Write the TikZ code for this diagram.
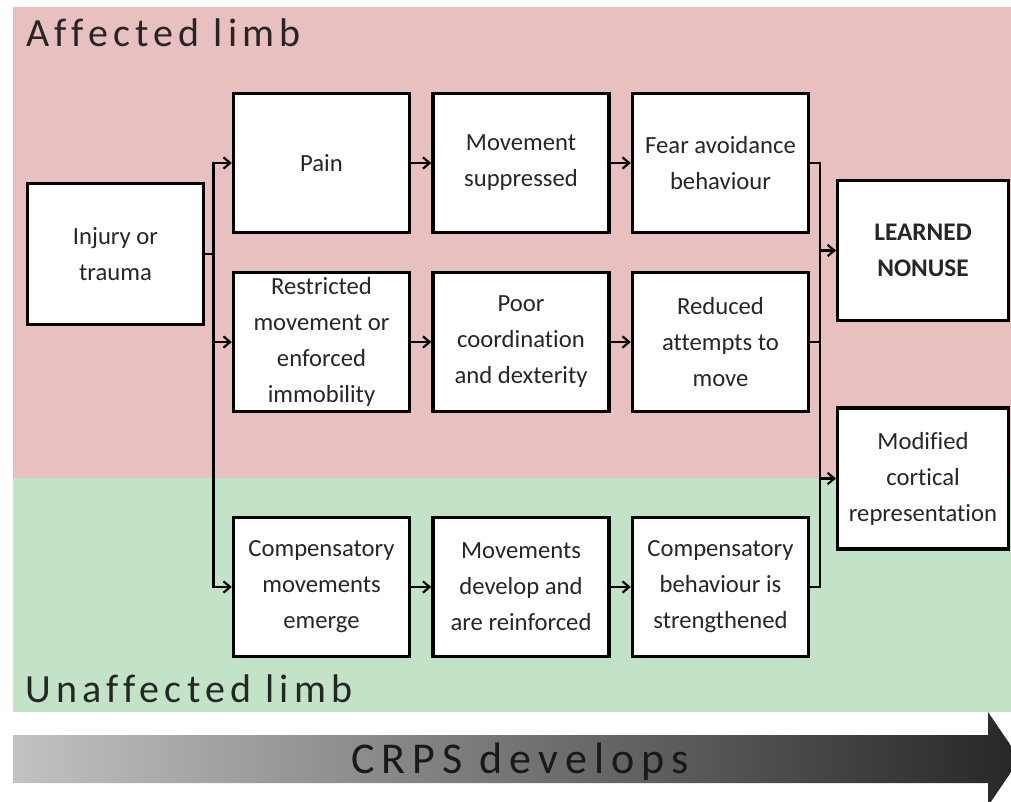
\documentclass[tikz,border=0pt]{standalone}
\usepackage{fontspec}
\setmainfont[Ligatures=NoCommon]{Carlito}
\newfontfamily\spacedfont[LetterSpace=13,Ligatures=NoCommon]{Carlito}
\newfontfamily\widefont[LetterSpace=16,Ligatures=NoCommon]{Carlito}
\usetikzlibrary{arrows.meta,positioning}
\definecolor{affectbg}{HTML}{E8C0C0}
\definecolor{unaffectbg}{HTML}{C2E3C8}

\begin{document}
\begin{tikzpicture}[
  x=.75pt,y=-.75pt,
  font=\fontsize{18.5}{27}\selectfont,
  box/.style={draw=black,fill=white,line width=2.6pt,align=center,
              text=black!85,inner sep=2pt,minimum width=132pt,minimum height=104pt},
  limb/.style={anchor=base west,inner sep=0pt,text=black!85,
               font=\spacedfont\fontsize{30}{32}\selectfont},
  link/.style={line width=2pt,line cap=rect},
  arr/.style={link,-{Straight Barb[length=5pt,width=8.5pt,line width=1.6pt]}},
  every path/.style={line join=miter}
]
\useasboundingbox (0,0) rectangle (1011,802);
% two limb bands
\fill[affectbg] (13,7) rectangle (1011,478);
\fill[unaffectbg] (13,478) rectangle (1011,712);
\node[limb] (affected) at (26,47) {Affected limb};
\node[limb] (unaffected) at (25,702) {Unaffected limb};

\node[box,minimum height=106pt] (injury) at (115.5,254) {Injury or\\trauma};

\node[box] (pain) at (321.5,163) {Pain};
\node[box] (suppressed) at (521,163) {Movement\\suppressed};
\node[box] (fear) at (720.5,163) {Fear avoidance\\behaviour};

\node[box] (restricted) at (321.5,342) {Restricted\\movement or\\enforced\\immobility};
\node[box] (poor) at (521,342) {Poor\\coordination\\and dexterity};
\node[box] (reduced) at (720.5,342) {Reduced\\attempts to\\move};

\node[box] (compensatory) at (321.5,587) {Compensatory\\movements\\emerge};
\node[box] (develop) at (521,587) {Movements\\develop and\\are reinforced};
\node[box] (strengthened) at (720.5,587) {Compensatory\\behaviour is\\strengthened};

\node[box,minimum width=128pt,minimum height=105pt,font=\bfseries\fontsize{19}{27}\selectfont]
  (nonuse) at (923,250.5) {LEARNED\\NONUSE};
\node[box,minimum width=128pt,minimum height=106pt] (cortical) at (923,478.5)
  {Modified\\cortical\\representation};

% split from the injury
\draw[arr] (injury.east) -- ++(8,0) |- (pain.west);
\draw[arr] (injury.east) -- ++(8,0) |- (restricted.west);
\draw[arr] (injury.east) -- ++(8,0) |- (compensatory.west);

\draw[arr] (pain) -- (suppressed);
\draw[arr] (suppressed) -- (fear);
\draw[arr] (restricted) -- (poor);
\draw[arr] (poor) -- (reduced);
\draw[arr] (compensatory) -- (develop);
\draw[arr] (develop) -- (strengthened);

% gather into the outcomes
\coordinate (gather) at (820,0);
\draw[link] (fear.east) -| (gather |- strengthened.east) -- (strengthened.east);
\draw[link] (reduced.east) -- (gather |- reduced.east);
\draw[arr] (gather |- nonuse.west) -- (nonuse.west);
\draw[arr] (gather |- cortical.west) -- (cortical.west);

\shade[left color=black!24,right color=black!85]
  (13,735) -- (988,735) -- (988,712) -- (1020,759) -- (988,806)
  -- (988,783) -- (13,783) -- cycle;
\node[anchor=base,inner sep=0pt,text=black!90,font=\widefont\fontsize{33}{35}\selectfont]
  (crps) at (520,773) {CRPS develops};
\end{tikzpicture}
\end{document}
